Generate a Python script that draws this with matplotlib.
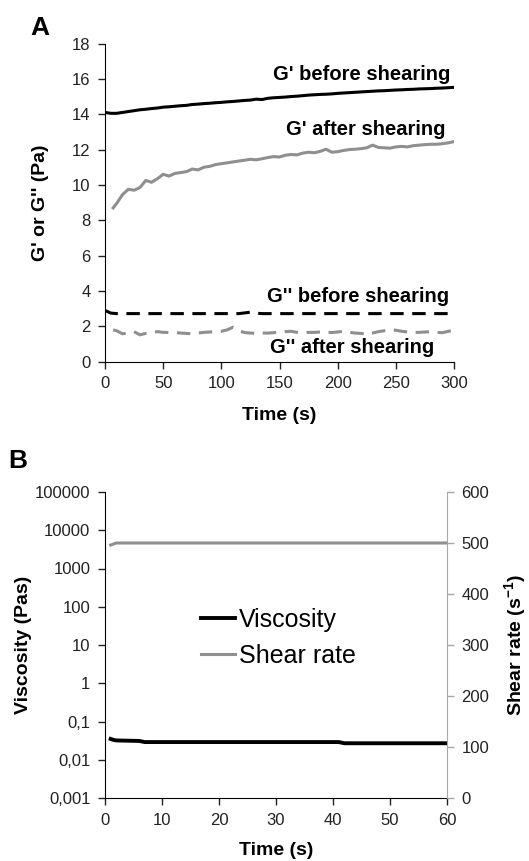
import matplotlib
matplotlib.use("Agg")
import matplotlib.pyplot as plt

plt.rcParams['font.family'] = ['Liberation Sans', 'DejaVu Sans']
plt.rcParams['mathtext.fontset'] = 'custom'
plt.rcParams['mathtext.rm'] = 'Liberation Sans'
plt.rcParams['mathtext.bf'] = 'Liberation Sans:bold'

# ---- panel A data (time in s, moduli in Pa) ----
t_before = [0, 5, 10, 15, 20, 25, 30, 35, 40, 45, 50, 55, 60, 65, 70, 75, 80, 85, 90, 95,
            100, 105, 110, 115, 120, 125, 130, 135, 140, 145, 150, 155, 160, 165, 170, 175,
            180, 185, 190, 195, 200, 205, 210, 215, 220, 225, 230, 235, 240, 245, 250, 255,
            260, 265, 270, 275, 280, 285, 290, 295, 300]
g1_before = [14.10, 14.05, 14.05, 14.10, 14.15, 14.20, 14.25, 14.28, 14.32, 14.35, 14.40,
             14.42, 14.45, 14.48, 14.50, 14.55, 14.57, 14.60, 14.62, 14.65, 14.67, 14.70,
             14.72, 14.75, 14.78, 14.80, 14.85, 14.83, 14.90, 14.93, 14.95, 14.97, 15.00,
             15.02, 15.05, 15.08, 15.10, 15.12, 15.13, 15.15, 15.18, 15.20, 15.22, 15.24,
             15.26, 15.28, 15.30, 15.32, 15.33, 15.35, 15.37, 15.38, 15.40, 15.41, 15.43,
             15.44, 15.45, 15.47, 15.48, 15.50, 15.52]
g2_before = [2.90, 2.75, 2.72, 2.72, 2.72, 2.72, 2.72, 2.72, 2.72, 2.72, 2.72, 2.72, 2.72,
             2.72, 2.72, 2.72, 2.72, 2.72, 2.72, 2.72, 2.72, 2.72, 2.72, 2.72, 2.76, 2.80,
             2.74, 2.72, 2.72, 2.72, 2.72, 2.72, 2.72, 2.72, 2.72, 2.72, 2.72, 2.72, 2.72,
             2.72, 2.72, 2.72, 2.72, 2.72, 2.72, 2.72, 2.72, 2.72, 2.72, 2.72, 2.72, 2.72,
             2.72, 2.72, 2.72, 2.72, 2.72, 2.72, 2.72, 2.72, 2.72]

t_after = [7, 10, 15, 20, 25, 30, 35, 40, 45, 50, 55, 60, 65, 70, 75, 80, 85, 90, 95, 100,
           105, 110, 115, 120, 125, 130, 135, 140, 145, 150, 155, 160, 165, 170, 175, 180,
           185, 190, 195, 200, 205, 210, 215, 220, 225, 230, 235, 240, 245, 250, 255, 260,
           265, 270, 275, 280, 285, 290, 295, 300]
g1_after = [8.70, 8.95, 9.45, 9.75, 9.70, 9.85, 10.25, 10.15, 10.35, 10.60, 10.50, 10.65,
            10.70, 10.75, 10.90, 10.85, 11.00, 11.05, 11.15, 11.20, 11.25, 11.30, 11.35,
            11.40, 11.45, 11.42, 11.48, 11.55, 11.60, 11.58, 11.68, 11.72, 11.70, 11.80,
            11.85, 11.82, 11.90, 12.02, 11.85, 11.88, 11.95, 12.00, 12.02, 12.05, 12.10,
            12.25, 12.12, 12.10, 12.08, 12.15, 12.18, 12.15, 12.22, 12.25, 12.28, 12.30,
            12.30, 12.33, 12.38, 12.45]
g2_after = [1.80, 1.75, 1.58, 1.62, 1.70, 1.52, 1.60, 1.65, 1.70, 1.66, 1.65, 1.65, 1.62,
            1.60, 1.58, 1.62, 1.66, 1.68, 1.70, 1.72, 1.80, 1.95, 1.75, 1.65, 1.62, 1.60,
            1.62, 1.62, 1.64, 1.66, 1.70, 1.72, 1.66, 1.64, 1.66, 1.66, 1.68, 1.66, 1.65,
            1.68, 1.72, 1.66, 1.62, 1.60, 1.55, 1.62, 1.70, 1.75, 1.80, 1.78, 1.72, 1.68,
            1.66, 1.66, 1.68, 1.70, 1.66, 1.64, 1.72, 1.78]

# ---- panel B data ----
t_visc = [1, 1.5, 2, 6, 7, 41, 42, 60]
viscosity = [0.035, 0.033, 0.032, 0.031, 0.029, 0.029, 0.027, 0.027]
t_shear = [1, 2, 60]
shear_rate = [496, 500, 500]

log_ticks = [0.001, 0.01, 0.1, 1, 10, 100, 1000, 10000, 100000]
log_labels = ['0,001', '0,01', '0,1', '1', '10', '100', '1000', '10000', '100000']

GREY = '#8f8f8f'
SPINE_GREY = '#a8a8a8'

W, H = 529, 861
fig = plt.figure(figsize=(W / 100, H / 100), dpi=100)

# ---------------- panel A ----------------
axA = fig.add_axes([105 / W, 1 - 361.7 / H, 349 / W, 318.2 / H])
axA.plot(t_before, g1_before, color='black', lw=2.2)
axA.plot(t_after, g1_after, color=GREY, lw=2.2)
axA.plot(t_before, g2_before, color='black', lw=2.2, dashes=(4.4, 2.8))
axA.plot(t_after, g2_after, color=GREY, lw=2.2, dashes=(4.4, 2.8))
axA.set_xlim(0, 300)
axA.set_ylim(0, 18)
axA.set_xticks(range(0, 301, 50))
axA.set_yticks(range(0, 19, 2))
for s in ('top', 'right'):
    axA.spines[s].set_visible(False)
axA.tick_params(labelsize=12, length=5, width=1, pad=5.5, direction='out', colors='#222222')
axA.set_xlabel('Time (s)', fontsize=14, fontweight='bold')
axA.set_ylabel("G' or G'' (Pa)", fontsize=14, fontweight='bold')
axA.xaxis.set_label_coords(0.5, -0.142)
axA.yaxis.set_label_coords(-0.16, 0.5)

ann = dict(fontsize=14.5, fontweight='bold', ha='right', va='baseline')
axA.text(297, 15.95, "G' before shearing", **ann)
axA.text(293, 12.82, "G' after shearing", **ann)
axA.text(295.5, 3.4, "G'' before shearing", **ann)
axA.text(283, 0.48, "G'' after shearing", **ann)

# ---------------- panel B ----------------
axB = fig.add_axes([105 / W, 1 - 798 / H, 342 / W, 306 / H])
lv, = axB.plot(t_visc, viscosity, color='black', lw=2.8)
axB.set_yscale('log')
axB.set_ylim(0.001, 100000)
axB.set_xlim(0, 60)
axB.set_xticks(range(0, 61, 10))
axB.yaxis.set_major_locator(plt.FixedLocator(log_ticks))
axB.yaxis.set_major_formatter(plt.FixedFormatter(log_labels))
axB.yaxis.set_minor_locator(plt.NullLocator())
axB.spines['top'].set_visible(False)
axB.spines['right'].set_visible(False)
axB.tick_params(labelsize=12, length=5, width=1, pad=5.5, direction='out', colors='#222222')
axB.set_xlabel('Time (s)', fontsize=14, fontweight='bold')
axB.set_ylabel('Viscosity (Pas)', fontsize=14, fontweight='bold')
axB.xaxis.set_label_coords(0.5, -0.144)
axB.yaxis.set_label_coords(-0.213, 0.5)

axR = axB.twinx()
ls, = axR.plot(t_shear, shear_rate, color=GREY, lw=2.2)
axR.set_ylim(0, 600)
axR.set_yticks(range(0, 601, 100))
for s in ('top', 'left', 'bottom'):
    axR.spines[s].set_visible(False)
axR.spines['right'].set_color(SPINE_GREY)
axR.tick_params(labelsize=12, length=5, width=1, pad=5.5, direction='out',
                color=SPINE_GREY, labelcolor='#222222')
axR.set_ylabel('Shear rate (s$^{\\mathbf{-1}}$)', fontsize=14, fontweight='bold')
axR.yaxis.set_label_coords(1.163, 0.5)

axB.legend([lv, ls], ['Viscosity', 'Shear rate'], loc='upper left',
           bbox_to_anchor=(0.28, 0.6225), frameon=False, fontsize=18,
           handlelength=1.36, handletextpad=0.15, labelspacing=0.48,
           borderpad=0, borderaxespad=0)

fig.text(30 / W, 1 - 35 / H, 'A', fontsize=19, fontweight='bold')
fig.text(8 / W, 1 - 468 / H, 'B', fontsize=19, fontweight='bold')

fig.savefig('out.png', dpi=100)
